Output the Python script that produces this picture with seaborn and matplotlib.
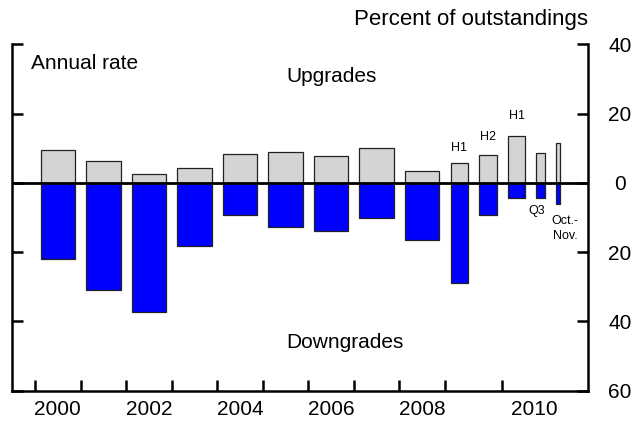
import matplotlib
matplotlib.use("Agg")
import matplotlib.pyplot as plt
import seaborn as sns

# --- data (percent of outstandings, annual rate) ---
periods = ["2000", "2001", "2002", "2003", "2004", "2005", "2006", "2007", "2008",
           "2009 H1", "2009 H2", "2010 H1", "2010 Q3", "2010 Oct.-Nov."]
upgrades = [9.4, 6.2, 2.7, 4.4, 8.4, 8.9, 7.7, 10.1, 3.4, 5.6, 8.0, 13.6, 8.6, 11.4]
downgrades = [22.0, 31.0, 37.4, 18.3, 9.3, 12.7, 13.9, 10.2, 16.5, 29.0, 9.2, 4.3, 4.3, 6.0]
sub_labels = ["H1", "H2", "H1", "Q3", "Oct.-\nNov."]
year_labels = ["2000", "2002", "2004", "2006", "2008", "2010"]
y_ticks = [40, 20, 0, -20, -40, -60]

# --- layout ---
x_pos = [0, 1, 2, 3, 4, 5, 6, 7, 8, 8.82, 9.45, 10.08, 10.60, 10.99]
widths = [0.76] * 9 + [0.38] * 3 + [0.2, 0.1]
sub_xy = [(8.82, 10.2), (9.45, 13.1), (10.08, 19.2), (10.52, -8.0), (11.15, -13.1)]
year_label_pos = [0, 2, 4, 6, 8, 10.46]
year_tick_pos = [-0.5, 0.5, 1.5, 2.5, 3.5, 4.5, 5.5, 6.5, 7.5, 8.5, 9.76]

sns.set_style("white")
plt.rcParams["font.family"] = ["Liberation Sans", "DejaVu Sans"]
plt.rcParams["text.color"] = "black"
plt.rcParams["xtick.color"] = "black"
plt.rcParams["ytick.color"] = "black"

fig = plt.figure(figsize=(6.41, 4.24), dpi=100)
ax = fig.add_axes([0.0192, 0.0785, 0.8988, 0.817])

for x, w, up, dn in zip(x_pos, widths, upgrades, downgrades):
    sns.barplot(x=[x], y=[up], native_scale=True, width=w, color="#d4d4d4",
                edgecolor="#222222", linewidth=0.9, errorbar=None, ax=ax)
    sns.barplot(x=[x], y=[-dn], native_scale=True, width=w, color="#0000ff",
                saturation=1, edgecolor="#222222", linewidth=0.9, errorbar=None, ax=ax)

ax.axhline(0, color="black", lw=2.0, zorder=5)

ax.set_xlim(-1.0, 11.66)
ax.set_ylim(-60, 40)
ax.set_xlabel("")
ax.set_ylabel("")

# spines: open top
ax.spines["top"].set_visible(False)
for s in ["left", "right", "bottom"]:
    ax.spines[s].set_linewidth(1.8)
    ax.spines[s].set_color("black")

# y ticks: inward on both sides, labels right, absolute values
ax.set_yticks(y_ticks)
ax.set_yticklabels([str(abs(v)) for v in y_ticks])
ax.set_yticks([40], minor=True)
ax.tick_params(axis="y", which="major", left=True, right=True, labelleft=False,
               labelright=True, direction="in", length=8, width=1.8,
               labelsize=15, pad=22.5, colors="black")
ax.tick_params(axis="y", which="minor", left=True, right=True, direction="in",
               length=15, width=1.8, colors="black")
for lbl in ax.get_yticklabels():
    lbl.set_horizontalalignment("center")

# x ticks: marks at period boundaries, labels centred on years
ax.set_xticks(year_tick_pos)
ax.set_xticklabels([])
ax.set_xticks(year_label_pos, minor=True)
ax.set_xticklabels(year_labels, minor=True)
ax.tick_params(axis="x", which="major", bottom=True, direction="in", length=8,
               width=1.8, colors="black")
ax.tick_params(axis="x", which="minor", bottom=True, length=0, labelsize=15, pad=7,
               colors="black")

for (tx, ty), s in zip(sub_xy, sub_labels):
    ax.text(tx, ty, s, ha="center", va="center", fontsize=9, linespacing=1.3)

ax.text(0.032, 0.946, "Annual rate", transform=ax.transAxes, ha="left", va="center", fontsize=15)
ax.text(0.475, 0.908, "Upgrades", transform=ax.transAxes, ha="left", va="center", fontsize=15)
ax.text(0.475, 0.138, "Downgrades", transform=ax.transAxes, ha="left", va="center", fontsize=15)
fig.text(0.918, 0.953, "Percent of outstandings", ha="right", va="center", fontsize=16)

fig.savefig("out.png", dpi=100)
